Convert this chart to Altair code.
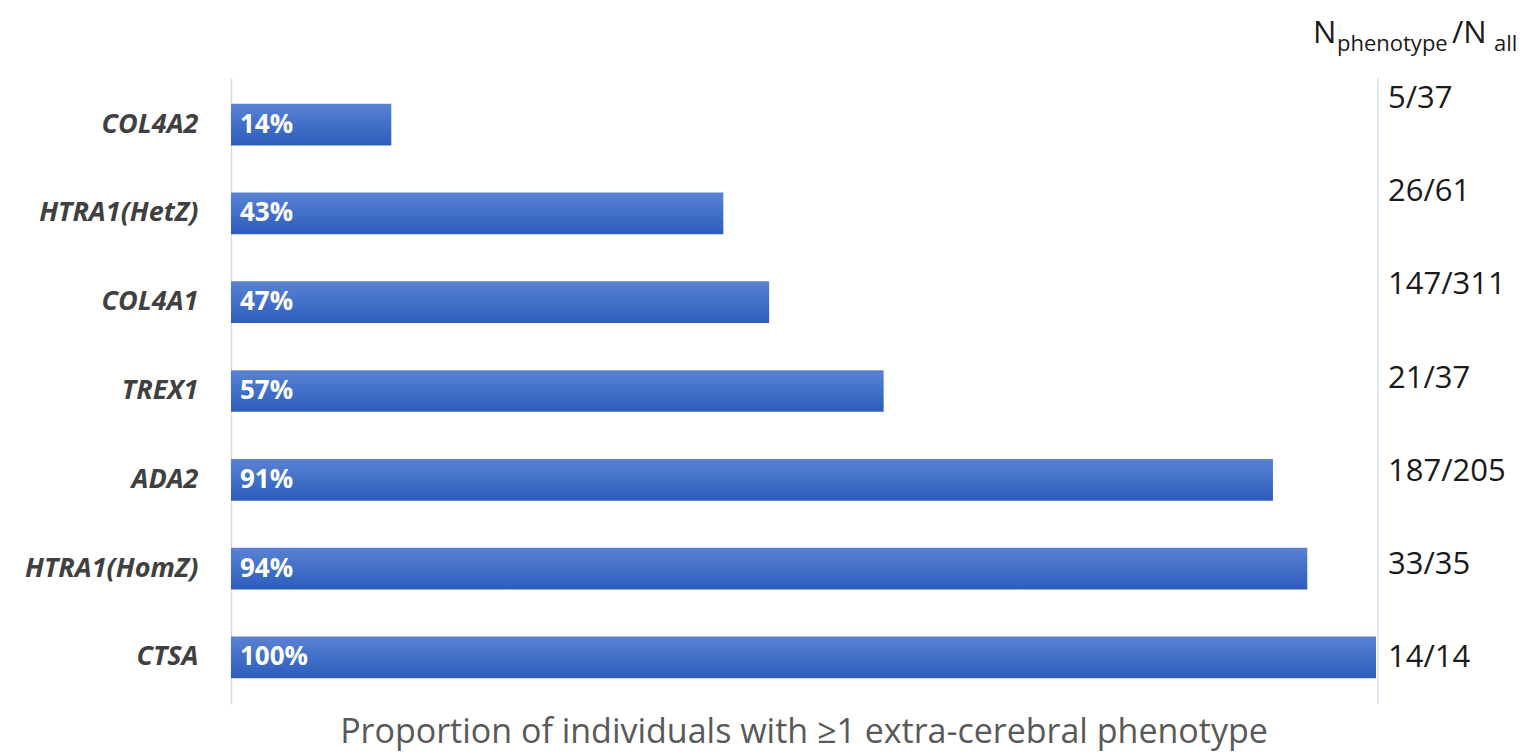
import altair as alt
import pandas as pd

genes = ["COL4A2", "HTRA1(HetZ)", "COL4A1", "TREX1", "ADA2", "HTRA1(HomZ)", "CTSA"]
percent = [14, 43, 47, 57, 91, 94, 100]
ratios = ["5/37", "26/61", "147/311", "21/37", "187/205", "33/35", "14/14"]

df = pd.DataFrame({
    "gene": genes,
    "pct": percent,
    "pct_label": [f"{p}%" for p in percent],
    "ratio": ratios,
})

W, H = 1145, 626
FONT = "Open Sans"

ybar = alt.Y("gene:N", sort=genes,
             scale=alt.Scale(paddingInner=0.53, paddingOuter=0.29),
             axis=alt.Axis(title=None, ticks=False, labelFont=FONT, labelFontSize=27,
                           labelFontWeight="bold", labelFontStyle="italic",
                           labelColor="#404040", labelPadding=33,
                           domainColor="#d9d9d9", domainWidth=1.5))

xq = alt.X("pct:Q", scale=alt.Scale(domain=[0, 100], nice=False),
           axis=alt.Axis(title="Proportion of individuals with \u22651 extra-cerebral phenotype",
                         labels=False, ticks=False, grid=False, domain=False,
                         titleFont=FONT, titleFontSize=34, titleFontWeight="normal",
                         titleColor="#595959", titlePadding=11))

grad = alt.Gradient(gradient="linear", x1=0, x2=0, y1=0, y2=1,
                    stops=[alt.GradientStop(color="#5b82d2", offset=0),
                           alt.GradientStop(color="#4170c8", offset=0.5),
                           alt.GradientStop(color="#2e5cbc", offset=1)])

base = alt.Chart(df)

bars = base.mark_bar(color=grad).encode(x=xq, y=ybar)

pct_text = base.mark_text(align="left", baseline="middle", dx=9, font=FONT,
                          fontSize=26, fontWeight="bold", color="white").encode(
    x=alt.datum(0), y=alt.Y("gene:N", sort=genes), text="pct_label:N")

rline = base.mark_rule(color="#dde8f5", strokeWidth=2).encode(
    x=alt.value(W + 2), y=alt.value(0), y2=alt.value(H))

main = alt.layer(bars, pct_text, rline)

ratio_text = base.mark_text(align="left", baseline="middle", font=FONT, fontSize=31,
                            color="#1a1a1a").encode(
    x=alt.value(W + 12),
    y=alt.Y("ratio:N", sort=ratios,
            scale=alt.Scale(type="point", range=[21, 580], padding=0),
            axis=None),
    text="ratio:N")

def hdr_text(t, x, y, size):
    return alt.Chart(pd.DataFrame({"t": [t]})).mark_text(
        align="left", baseline="alphabetic", font=FONT, fontSize=size, color="#1a1a1a").encode(
        x=alt.value(x), y=alt.value(y), text="t:N")

h1 = hdr_text("N", 1082, -35, 31)
h2 = hdr_text("phenotype", 1106, -27, 22)
h3 = hdr_text("/N", 1221, -35, 31)
h4 = hdr_text("all", 1263, -27, 22)

chart = alt.layer(main, ratio_text, h1, h2, h3, h4).resolve_scale(y="independent").properties(
    width=W, height=H,
    autosize=alt.AutoSizeParams(type="none"),
    padding={"left": 231, "top": 78, "right": 164, "bottom": 48},
    background="white",
).configure_view(stroke=None)

chart.save("out.html", embed_options={"renderer": "svg", "actions": False})
